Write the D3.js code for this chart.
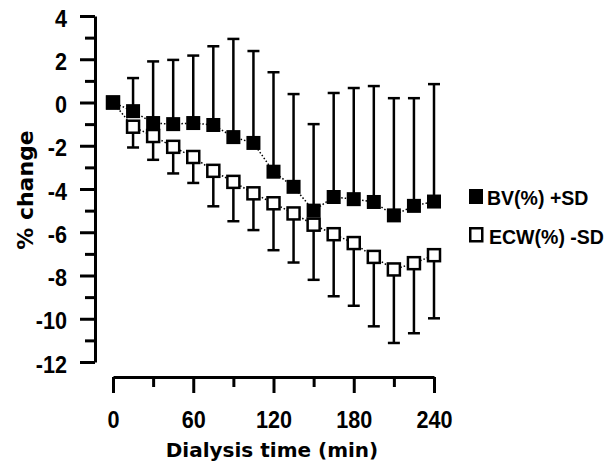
<!DOCTYPE html>
<html><head><meta charset="utf-8">
<script src="https://cdn.jsdelivr.net/npm/d3@7"></script>
<style>html,body{margin:0;padding:0;background:#fff;}</style>
</head><body>
<svg id="chart" width="608" height="466"></svg>
<script>
const times = [0,15,30,45,60,75,90,105,120,135,150,165,180,195,210,225,240];
const bvMean = [0,-0.4,-0.95,-1.0,-0.95,-1.04,-1.6,-1.87,-3.2,-3.9,-5.0,-4.37,-4.47,-4.6,-5.22,-4.78,-4.58];
const bvSD   = [0,1.53,2.85,2.97,3.12,3.64,4.54,4.25,4.6,4.29,4.0,4.81,5.14,5.36,5.42,4.98,5.43];
const ecwMean = [0,-1.12,-1.55,-2.05,-2.52,-3.16,-3.67,-4.2,-4.66,-5.13,-5.65,-6.09,-6.5,-7.14,-7.72,-7.43,-7.06];
const ecwSD   = [0,0.96,1.1,1.23,1.2,1.64,1.82,1.7,2.17,2.27,2.55,2.87,2.9,3.21,3.4,3.24,2.92];
const xTicks = [0,60,120,180,240];
const xMinor = [30,90,150,210];
const yTicks = [-12,-10,-8,-6,-4,-2,0,2,4];
const yMinor = [-11,-9,-7,-5,-3,-1,1,3];
const legendLabels = ["BV(%) +SD","ECW(%) -SD"];

const svg = d3.select("#chart");
const x = d3.scaleLinear().domain([0,240]).range([113,434]);
const y = d3.scaleLinear().domain([-12,4]).range([362,16]);
const fmt = d => String(d);
const tickFont = "'Liberation Sans',Arial,sans-serif";

// Y axis
const yAxisX = 95;
const ya = svg.append("g").attr("transform",`translate(${yAxisX},0)`)
  .call(d3.axisLeft(y).tickValues(yTicks).tickSize(15).tickSizeOuter(0).tickFormat(fmt));
ya.select(".domain").attr("stroke","#000").attr("stroke-width",3);
ya.selectAll(".tick line").attr("stroke","#000").attr("stroke-width",3);
ya.selectAll(".tick text").attr("x",0).attr("dy","0.42em")
  .attr("transform","translate(-28,0) scale(0.9,1)")
  .attr("font-family",tickFont).attr("font-weight","bold").attr("font-size",24).attr("fill","#000");
const ym = svg.append("g").attr("transform",`translate(${yAxisX},0)`)
  .call(d3.axisLeft(y).tickValues(yMinor).tickSize(10).tickSizeOuter(0).tickFormat(""));
ym.select(".domain").remove();
ym.selectAll(".tick line").attr("stroke","#000").attr("stroke-width",3);

// X axis
const xAxisY = 377;
const xa = svg.append("g").attr("transform",`translate(0,${xAxisY})`)
  .call(d3.axisBottom(x).tickValues(xTicks).tickSize(16).tickSizeOuter(0).tickFormat(fmt));
xa.select(".domain").attr("stroke","#000").attr("stroke-width",3);
xa.selectAll(".tick line").attr("stroke","#000").attr("stroke-width",3);
xa.selectAll(".tick text").attr("y",0).attr("dy",0)
  .attr("transform","translate(0,51) scale(0.9,1)")
  .attr("font-family",tickFont).attr("font-weight","bold").attr("font-size",24).attr("fill","#000");
const xm = svg.append("g").attr("transform",`translate(0,${xAxisY})`)
  .call(d3.axisBottom(x).tickValues(xMinor).tickSize(10).tickSizeOuter(0).tickFormat(""));
xm.select(".domain").remove();
xm.selectAll(".tick line").attr("stroke","#000").attr("stroke-width",3);

// Axis titles
svg.append("text").attr("x",272).attr("y",457).attr("text-anchor","middle")
  .attr("font-family","'DejaVu Sans',sans-serif").attr("font-weight","bold").attr("font-size",20)
  .text("Dialysis time (min)");
svg.append("text").attr("transform","translate(33,190) rotate(-90)").attr("text-anchor","middle")
  .attr("font-family","'DejaVu Sans',sans-serif").attr("font-weight","bold").attr("font-size",22)
  .text("% change");

function drawSeries(mean, sd, dir, filled) {
  const data = times.map((t,i)=>({t, m:mean[i], s:sd[i]}));
  const g = svg.append("g");
  g.append("path").datum(data)
    .attr("d", d3.line().x(d=>x(d.t)).y(d=>y(d.m)))
    .attr("fill","none").attr("stroke","#000").attr("stroke-width",1.5).attr("stroke-dasharray","1.5,2");
  const eb = g.selectAll(".eb").data(data.filter(d=>d.s>0)).enter().append("g");
  eb.append("line").attr("x1",d=>x(d.t)).attr("x2",d=>x(d.t))
    .attr("y1",d=>y(d.m)).attr("y2",d=>y(d.m+dir*d.s))
    .attr("stroke","#000").attr("stroke-width",2.5);
  eb.append("line").attr("x1",d=>x(d.t)-6).attr("x2",d=>x(d.t)+6)
    .attr("y1",d=>y(d.m+dir*d.s)).attr("y2",d=>y(d.m+dir*d.s))
    .attr("stroke","#000").attr("stroke-width",2.5);
  const sz = filled ? 14 : 12;
  g.selectAll(".pt").data(data).enter().append("rect")
    .attr("x",d=>x(d.t)-sz/2).attr("y",d=>y(d.m)-sz/2)
    .attr("width",sz).attr("height",sz)
    .attr("fill",filled?"#000":"#fff").attr("stroke","#000").attr("stroke-width",filled?0:2.5);
}
drawSeries(ecwMean, ecwSD, -1, false);
drawSeries(bvMean, bvSD, 1, true);

// Legend
const leg = svg.append("g");
legendLabels.forEach((lab,i)=>{
  const ly = 205 + i*39;
  if (i===0) leg.append("rect").attr("x",469).attr("y",ly-16).attr("width",14).attr("height",15).attr("fill","#000");
  else leg.append("rect").attr("x",470.25).attr("y",ly-15.75).attr("width",12).attr("height",13).attr("fill","#fff").attr("stroke","#000").attr("stroke-width",2.5);
  leg.append("text").attr("transform",`translate(${487+(i?2:0)},${ly}) scale(0.93,1)`)
    .attr("font-family",tickFont).attr("font-weight","bold").attr("font-size",21)
    .text(lab);
});
</script>
</body></html>
